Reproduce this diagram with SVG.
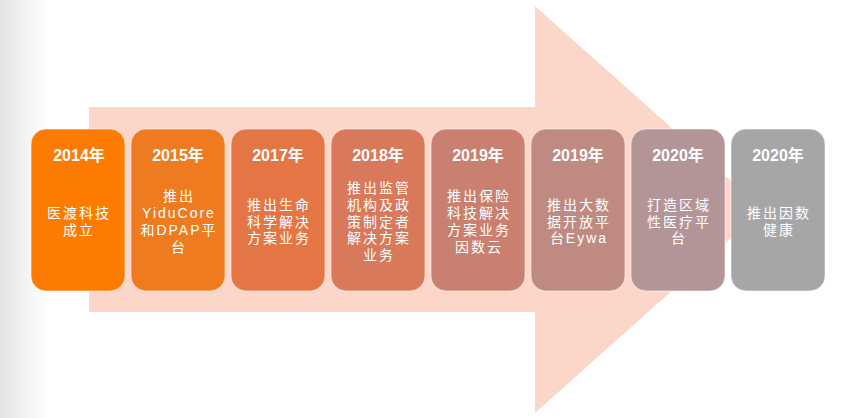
<svg xmlns="http://www.w3.org/2000/svg" width="858" height="418" viewBox="0 0 858 418">
  <defs>
    <linearGradient id="bgL" x1="0" y1="0" x2="1" y2="0">
      <stop offset="0" stop-color="#e4e4e4"/>
      <stop offset="1" stop-color="#ffffff"/>
    </linearGradient>
  </defs>
  <style>
    .box { stroke: #ffffff; stroke-opacity: 0.55; stroke-width: 1; }
    .yr { font-family: "Liberation Sans", "Noto Sans CJK SC", sans-serif; font-weight: bold; font-size: 16px; fill: #ffffff; text-anchor: middle; }
    .bd { font-family: "Liberation Sans", "Noto Sans CJK SC", sans-serif; font-size: 14px; fill: #ffffff; text-anchor: middle; letter-spacing: 2px; }
  </style>
  <rect x="0" y="0" width="858" height="418" fill="#ffffff"/>
  <rect x="0" y="0" width="48" height="418" fill="url(#bgL)"/>

  <g id="connectors">
    <polygon points="89,107 535,107 535,6 763,209.5 535,413 535,312 89,312" fill="#fdd6ca"/>
  </g>

  <g id="n2014">
    <rect class="box" x="31" y="129" width="94" height="162" rx="15" fill="#fe7b02"/>
    <text class="yr" x="79" y="161">2014年</text>
    <text class="bd" x="79" y="218">医渡科技</text>
    <text class="bd" x="79" y="235">成立</text>
  </g>
  <g id="n2015">
    <rect class="box" x="131" y="129" width="94" height="162" rx="15" fill="#ef7b20"/>
    <text class="yr" x="178" y="161">2015年</text>
    <text class="bd" x="179" y="201">推出</text>
    <text class="bd" x="179" y="218">YiduCore</text>
    <text class="bd" x="179" y="235">和DPAP平</text>
    <text class="bd" x="179" y="252">台</text>
  </g>
  <g id="n2017">
    <rect class="box" x="231" y="129" width="94" height="162" rx="15" fill="#e37644"/>
    <text class="yr" x="278" y="161">2017年</text>
    <text class="bd" x="279" y="210">推出生命</text>
    <text class="bd" x="279" y="226.5">科学解决</text>
    <text class="bd" x="279" y="243">方案业务</text>
  </g>
  <g id="n2018">
    <rect class="box" x="331" y="129" width="94" height="162" rx="15" fill="#d8795b"/>
    <text class="yr" x="378" y="161">2018年</text>
    <text class="bd" x="379" y="193">推出监管</text>
    <text class="bd" x="379" y="210">机构及政</text>
    <text class="bd" x="379" y="226.5">策制定者</text>
    <text class="bd" x="379" y="243">解决方案</text>
    <text class="bd" x="379" y="260">业务</text>
  </g>
  <g id="n2019a">
    <rect class="box" x="431" y="129" width="94" height="162" rx="15" fill="#c98070"/>
    <text class="yr" x="478" y="161">2019年</text>
    <text class="bd" x="479" y="201">推出保险</text>
    <text class="bd" x="479" y="218">科技解决</text>
    <text class="bd" x="479" y="235">方案业务</text>
    <text class="bd" x="479" y="252">因数云</text>
  </g>
  <g id="n2019b">
    <rect class="box" x="531" y="129" width="94" height="162" rx="15" fill="#be8a82"/>
    <text class="yr" x="578" y="161">2019年</text>
    <text class="bd" x="579" y="210">推出大数</text>
    <text class="bd" x="579" y="226.5">据开放平</text>
    <text class="bd" x="579" y="243">台Eywa</text>
  </g>
  <g id="n2020a">
    <rect class="box" x="631" y="129" width="94" height="162" rx="15" fill="#b49597"/>
    <text class="yr" x="678" y="161">2020年</text>
    <text class="bd" x="679" y="210">打造区域</text>
    <text class="bd" x="679" y="226.5">性医疗平</text>
    <text class="bd" x="679" y="243">台</text>
  </g>
  <g id="n2020b">
    <rect class="box" x="731" y="129" width="94" height="162" rx="15" fill="#a6a6a6"/>
    <text class="yr" x="778" y="161">2020年</text>
    <text class="bd" x="779" y="218">推出因数</text>
    <text class="bd" x="779" y="235">健康</text>
  </g>
</svg>
